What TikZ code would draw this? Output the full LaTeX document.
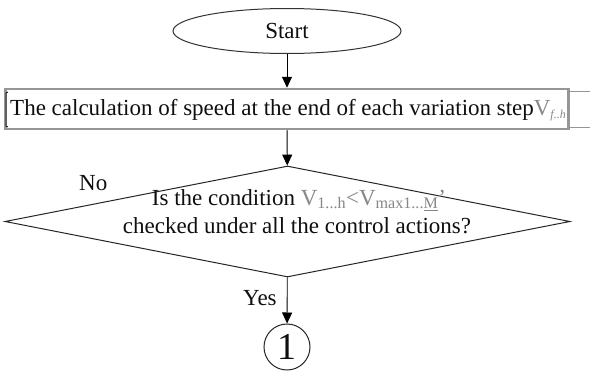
\documentclass[tikz,border=0pt]{standalone}
\usepackage{fontspec}
\setmainfont{Liberation Serif}
\usetikzlibrary{shapes.geometric,arrows.meta}
\definecolor{boxgray}{RGB}{150,150,150}
\definecolor{vgray}{RGB}{135,135,135}
\definecolor{ink}{RGB}{15,15,15}
\begin{document}
\begin{tikzpicture}[x=1pt,y=-1pt,
  every node/.style={font=\fontsize{23}{28}\selectfont, inner sep=0pt, text=ink},
  flow/.style={-{Triangle[length=11pt,width=10pt]}, line width=0.9pt, draw=black},
  startbox/.style={ellipse, draw=black!80, line width=1pt, minimum width=228pt, minimum height=45pt},
  procbox/.style={draw=boxgray, line width=2.5pt, minimum width=563pt, minimum height=40pt},
  decbox/.style={diamond, draw=black!85, line width=1pt, minimum width=565pt, minimum height=111pt},
  connbox/.style={circle, draw=black!85, line width=1pt, minimum size=46pt, font=\fontsize{38}{40}\selectfont}]
\useasboundingbox (0,0) rectangle (590,372);
\fill[white] (0,0) rectangle (590,372);

% terminal
\node[startbox] (start) at (287,31) {Start};

% process step
\node[procbox] (calc) at (287,109) {};
\node[anchor=base west] (calctxt) at (10,115)
  {The calculation of speed at the end of each variation step{\color{vgray}V\textsubscript{\fontsize{12}{12}\selectfont\itshape f..h}}};
\draw[boxgray, line width=0.8pt] (568,91) -- (590,91);
\draw[boxgray, line width=0.8pt] (568,127) -- (590,127);
\draw[black, line width=0.8pt] (8,92) -- (6,93) -- (6,126) -- (8,127);

% decision
\node[decbox] (cond) at (287.5,221.5) {};
\node[anchor=base] (condA) at (299,205)
  {Is the condition {\color{vgray}V\textsubscript{1...h}<V\textsubscript{max1...\underline{M}}'}};
\node[anchor=base] (condB) at (297,233) {checked under all the control actions?};
\node[anchor=base west] (no) at (79,190) {No};
\node[anchor=base west] (yes) at (243,305) {Yes};

% connector
\node[connbox] (one) at (287,347) {1};

% flow
\draw[flow] (start) -- (calc);
\draw[flow] (calc) -- (cond);
\draw[flow] (cond) -- (one);
\end{tikzpicture}
\end{document}
